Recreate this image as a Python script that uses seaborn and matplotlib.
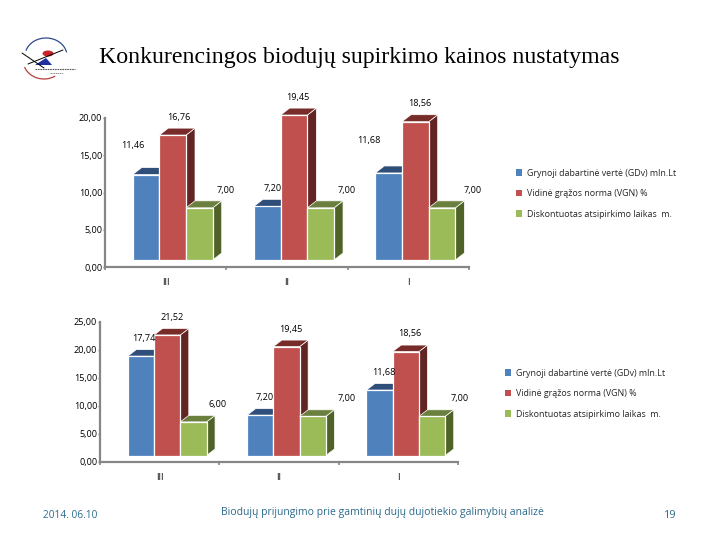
import matplotlib
matplotlib.use("Agg")
import matplotlib.pyplot as plt
from matplotlib.patches import Patch, Arc, Polygon, Ellipse
import pandas as pd
import seaborn as sns

categories = ["III", "II", "I"]
series_names = ["Grynoji dabartinė vertė (GDv) mln.Lt",
                "Vidinė grąžos norma (VGN) %",
                "Diskontuotas atsipirkimo laikas  m."]
top_gdv = [11.46, 7.20, 11.68]
top_vgn = [16.76, 19.45, 18.56]
top_dpb = [7.00, 7.00, 7.00]
bottom_gdv = [17.74, 7.20, 11.68]
bottom_vgn = [21.52, 19.45, 18.56]
bottom_dpb = [6.00, 7.00, 7.00]

front = ["#4F81BD", "#C0504D", "#9BBB59"]
roof = ["#2F4F7A", "#772C2A", "#6B7F3F"]
wall = ["#2F4F7A", "#632523", "#4F6228"]
text_blue = "#2C6A8C"
font = "Open Sans"

# label offsets from each bar's top centre, in pixels (series x category)
top_offsets = [[(-13, 30), (5, 18), (-20, 33)],
               [(6, 18), (4, 18), (4, 19)],
               [(26, 18), (26, 18), (31, 18)]]
bottom_offsets = [[(3, 18), (4, 18), (4, 18)],
                  [(5, 18), (4, 18), (4, 19)],
                  [(24, 18), (34, 18), (28, 18)]]

W, H = 720, 540
sns.set_theme(style="white", rc={"font.family": [font, "DejaVu Sans"]})
fig = plt.figure(figsize=(W / 100, H / 100), dpi=100, facecolor="white")


def panel(rect, series, ymax, offsets, depth, shift, legend_xy):
    l, t, r, b = rect
    ax = fig.add_axes([l / W, 1 - b / H, (r - l) / W, (b - t) / H])
    df = pd.DataFrame({"scenario": categories * 3,
                       "series": [n for n in series_names for _ in categories],
                       "value": [v for s in series for v in s]})
    sns.barplot(data=df, x="scenario", y="value", hue="series", order=categories,
                hue_order=series_names, palette=front, width=0.66, gap=0, saturation=1,
                edgecolor="white", linewidth=0.9, legend=False, ax=ax)
    ax.set_xlim(-0.5, 2.5)
    ax.set_ylim(0, ymax)
    ux = 3 / (r - l)
    uy = ymax / (b - t)
    dx, dy = depth[0] * ux, depth[1] * uy
    bars = list(ax.patches)[:9]
    for i, bar in enumerate(bars):
        s, c = divmod(i, 3)
        bar.set_x(bar.get_x() + shift * ux)
        bar.set_y(dy)
        bar.set_zorder(3 + s)
        bar.set_clip_on(False)
        x0, x1 = bar.get_x(), bar.get_x() + bar.get_width()
        y0, y1 = dy, dy + bar.get_height()
        ax.add_patch(Polygon([(x1, y0), (x1 + dx, y0 + dy), (x1 + dx, y1 + dy), (x1, y1)],
                             facecolor=wall[s], edgecolor="white", linewidth=0.5,
                             zorder=2.8 + s, clip_on=False))
        ax.add_patch(Polygon([(x0, y1), (x0 + dx, y1 + dy), (x1 + dx, y1 + dy), (x1, y1)],
                             facecolor=roof[s], edgecolor="white", linewidth=0.5,
                             zorder=2.9 + s, clip_on=False))
        ox, oy = offsets[s][c]
        ax.text((x0 + x1) / 2 + ox * ux, y1 + (oy - 0.5) * uy, f"{series[s][c]:.2f}".replace(".", ","),
                ha="center", va="center", fontsize=6.6, color="black", zorder=10)
    sns.despine(ax=ax)
    for side in ("left", "bottom"):
        ax.spines[side].set_color("#868686")
        ax.spines[side].set_linewidth(1.6)
    ax.set_xlabel("")
    ax.set_ylabel("")
    ax.set_yticks(range(0, ymax + 1, 5))
    ax.set_yticklabels([f"{v},00" for v in range(0, ymax + 1, 5)])
    ax.set_xticks([-0.5, 0.5, 1.5, 2.5], minor=True)
    ax.tick_params(axis="x", which="major", length=0, pad=8, labelsize=6.6, labelcolor="black")
    ax.tick_params(axis="x", which="minor", length=2.2, width=1.2, color="#868686", bottom=True)
    ax.tick_params(axis="y", length=1.5, width=1, color="#868686", left=True, pad=0.5,
                   labelsize=6.6, labelcolor="black")
    handles = [Patch(facecolor=c, edgecolor="none", label=n) for c, n in zip(front, series_names)]
    ax.legend(handles=handles, loc="upper left", frameon=False, fontsize=6.4,
              bbox_to_anchor=(legend_xy[0] / W, 1 - legend_xy[1] / H),
              bbox_transform=fig.transFigure, borderpad=0, borderaxespad=0,
              handlelength=0.72, handleheight=0.72, handletextpad=0.55, labelspacing=1.3)
    return ax


panel((105, 118, 469, 267), [top_gdv, top_vgn, top_dpb], 20, top_offsets, (9, 7), 7, (516, 168.5))
panel((100, 322, 458, 462), [bottom_gdv, bottom_vgn, bottom_dpb], 25, bottom_offsets, (8.5, 6.5), 7.5, (505, 368.5))

fig.text(359.5 / W, 1 - 58 / H, "Konkurencingos biodujų supirkimo kainos nustatymas",
         family="Liberation Serif", fontsize=17.2, color="black", ha="center", va="center")
fig.text(70 / W, 1 - 516 / H, "2014. 06.10", fontsize=7.3, color=text_blue, ha="center", va="center")
fig.text(382 / W, 1 - 512 / H, "Biodujų prijungimo prie gamtinių dujų dujotiekio galimybių analizė",
         fontsize=7.5, color=text_blue, ha="center", va="center")
fig.text(670 / W, 1 - 516 / H, "19", fontsize=7.8, color=text_blue, ha="center", va="center")

# logo
logo = fig.add_axes([0, 0, 1, 1], facecolor="none")
logo.set_xlim(0, W)
logo.set_ylim(H, 0)
logo.axis("off")
logo.add_patch(Arc((46, 56), 42, 36, theta1=195, theta2=350, color="#2F4A8C", lw=0.9))
logo.add_patch(Arc((44, 60), 42, 38, theta1=55, theta2=160, color="#B5403C", lw=0.9))
logo.plot([22, 44], [53, 68], color="black", lw=0.7)
logo.plot([28, 63], [64, 50], color="black", lw=0.7)
logo.add_patch(Ellipse((48, 53.5), 11, 6, facecolor="#C8252B", edgecolor="none"))
logo.add_patch(Polygon([(35, 65), (46, 58), (52, 65)], facecolor="#1F2FA0", edgecolor="none"))
logo.plot([35, 75], [69, 69], color="#555555", lw=0.8, ls=(0, (1.5, 0.7)))
logo.plot([50, 63], [73, 73], color="#777777", lw=0.6, ls=(0, (1.5, 0.7)))

fig.savefig("out.png", dpi=100, facecolor="white")
